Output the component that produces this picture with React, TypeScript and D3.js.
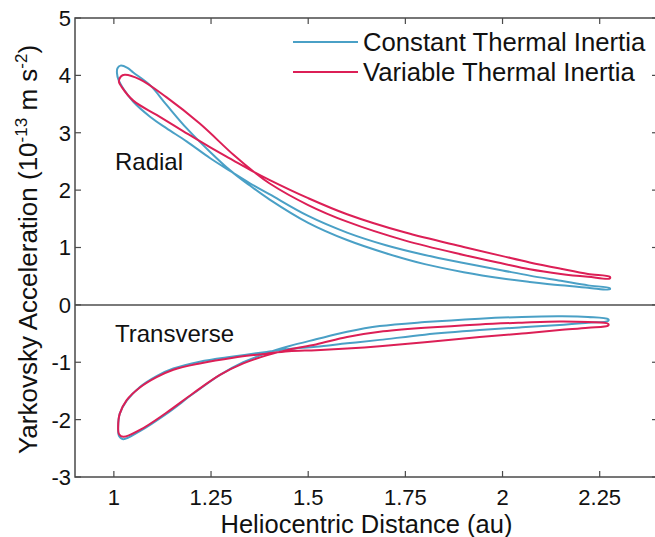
import React from "react";
import * as d3 from "d3";

// ---- data ----
const xTicks = [1, 1.25, 1.5, 1.75, 2, 2.25];
const xTickLabels = ["1", "1.25", "1.5", "1.75", "2", "2.25"];
const yTicks = [-3, -2, -1, 0, 1, 2, 3, 4, 5];
const yTickLabels = ["-3", "-2", "-1", "0", "1", "2", "3", "4", "5"];

const seriesNames = ["Constant Thermal Inertia", "Variable Thermal Inertia"];
const seriesColors = ["#4aa0c6", "#dc1f56"];

// Radial, constant thermal inertia (two branches of the loop)
const constRadialA: [number, number][] = [
  [1.017, 4.17], [1.035, 4.13], [1.05, 4.05], [1.093, 3.83], [1.135, 3.49], [1.187, 3.08],
  [1.247, 2.67], [1.3, 2.34], [1.35, 2.08], [1.4, 1.84], [1.5, 1.43], [1.6, 1.13],
  [1.7, 0.9], [1.8, 0.71], [1.9, 0.57], [2.0, 0.46], [2.07, 0.4], [2.15, 0.34], [2.22, 0.3], [2.276, 0.27],
];
const constRadialB: [number, number][] = [
  [1.009, 4.12], [1.008, 4.04], [1.012, 3.92], [1.024, 3.77], [1.05, 3.54], [1.093, 3.28], [1.135, 3.08],
  [1.187, 2.85], [1.247, 2.56], [1.3, 2.33], [1.35, 2.12], [1.4, 1.93], [1.5, 1.55], [1.6, 1.26],
  [1.7, 1.04], [1.8, 0.87], [1.9, 0.73], [2.0, 0.6], [2.07, 0.51], [2.15, 0.42], [2.22, 0.34], [2.276, 0.29],
];
// Radial, variable thermal inertia
const varRadialA: [number, number][] = [
  [1.028, 4.01], [1.067, 3.93], [1.135, 3.62], [1.221, 3.16], [1.307, 2.62], [1.36, 2.32],
  [1.4, 2.12], [1.5, 1.74], [1.6, 1.45], [1.75, 1.12], [1.9, 0.87], [2.0, 0.72], [2.07, 0.62],
  [2.15, 0.54], [2.22, 0.49], [2.276, 0.46],
];
const varRadialB: [number, number][] = [
  [1.018, 3.98], [1.013, 3.89], [1.02, 3.8], [1.05, 3.56], [1.11, 3.31], [1.178, 3.03], [1.247, 2.75],
  [1.307, 2.52], [1.36, 2.32], [1.4, 2.18], [1.5, 1.86], [1.6, 1.58], [1.75, 1.26], [1.9, 1.01],
  [2.0, 0.85], [2.07, 0.74], [2.15, 0.63], [2.22, 0.54], [2.276, 0.49],
];
// Transverse, constant thermal inertia
const constTransA: [number, number][] = [
  [1.024, -2.34], [1.067, -2.2], [1.135, -1.9], [1.204, -1.55], [1.273, -1.22], [1.333, -1.0],
  [1.393, -0.84], [1.45, -0.72], [1.52, -0.6], [1.6, -0.47], [1.684, -0.37], [1.8, -0.3],
  [1.941, -0.24], [2.05, -0.21], [2.147, -0.2], [2.22, -0.21], [2.272, -0.25],
];
const constTransB: [number, number][] = [
  [1.013, -2.28], [1.011, -2.13], [1.015, -1.9], [1.033, -1.67], [1.067, -1.43], [1.11, -1.24],
  [1.153, -1.11], [1.221, -0.99], [1.307, -0.9], [1.393, -0.82], [1.45, -0.77], [1.52, -0.73],
  [1.6, -0.67], [1.684, -0.61], [1.8, -0.52], [1.941, -0.44], [2.05, -0.39], [2.147, -0.35], [2.22, -0.31], [2.272, -0.28],
];
// Transverse, variable thermal inertia
const varTransA: [number, number][] = [
  [1.024, -2.3], [1.067, -2.18], [1.135, -1.88], [1.204, -1.54], [1.273, -1.22], [1.333, -1.02],
  [1.393, -0.88], [1.45, -0.78], [1.52, -0.69], [1.6, -0.56], [1.684, -0.47], [1.8, -0.4],
  [1.941, -0.34], [2.05, -0.31], [2.147, -0.29], [2.22, -0.3], [2.272, -0.33],
];
const varTransB: [number, number][] = [
  [1.013, -2.25], [1.011, -2.13], [1.015, -1.9], [1.033, -1.66], [1.067, -1.44], [1.11, -1.26],
  [1.153, -1.13], [1.221, -1.02], [1.307, -0.92], [1.393, -0.85], [1.45, -0.81], [1.52, -0.79],
  [1.6, -0.76], [1.684, -0.72], [1.8, -0.65], [1.941, -0.56], [2.05, -0.5], [2.147, -0.44], [2.22, -0.4], [2.272, -0.36],
];

const loops = [
  { a: constRadialA, b: constRadialB, s: 0 },
  { a: constTransA, b: constTransB, s: 0 },
  { a: varRadialA, b: varRadialB, s: 1 },
  { a: varTransA, b: varTransB, s: 1 },
];

const W = 655;
const H = 537;
const M = { left: 75, right: 658, top: 18, bottom: 477 };
const FONT = "'Liberation Sans', Arial, Helvetica, sans-serif";

export default function App() {
  const x = d3.scaleLinear().domain([0.9, 2.4]).range([M.left, M.right]);
  const y = d3.scaleLinear().domain([-3, 5]).range([M.bottom, M.top]);
  const line = d3
    .line<[number, number]>()
    .x((d) => x(d[0]))
    .y((d) => y(d[1]))
    .curve(d3.curveCatmullRomClosed.alpha(0.5));

  const axisColor = "#4a4a4a";
  const tickLen = 6;

  return (
    <svg
      width={W}
      height={H}
      style={{ position: "absolute", left: 0, top: 0, background: "#fff" }}
      fontFamily={FONT}
    >
      <rect x={0} y={0} width={W} height={H} fill="#fff" />
      {/* zero line */}
      <line x1={M.left} x2={M.right} y1={y(0)} y2={y(0)} stroke="#7a7a7a" strokeWidth={2} />

      {/* loops */}
      {loops.map((l, i) => (
        <path
          key={i}
          d={line([...l.a, ...l.b.slice().reverse()]) || ""}
          fill="none"
          stroke={seriesColors[l.s]}
          strokeWidth={2}
          strokeLinejoin="round"
        />
      ))}

      {/* box */}
      <rect
        x={M.left}
        y={M.top}
        width={M.right - M.left}
        height={M.bottom - M.top}
        fill="none"
        stroke={axisColor}
        strokeWidth={1.5}
      />

      {/* x ticks */}
      {xTicks.map((t, i) => (
        <g key={"x" + i}>
          <line x1={x(t)} x2={x(t)} y1={M.bottom} y2={M.bottom - tickLen} stroke={axisColor} strokeWidth={1.2} />
          <line x1={x(t)} x2={x(t)} y1={M.top} y2={M.top + tickLen} stroke={axisColor} strokeWidth={1.2} />
          <text x={x(t)} y={505} textAnchor="middle" fontSize={22} fill="#111">
            {xTickLabels[i]}
          </text>
        </g>
      ))}

      {/* y ticks */}
      {yTicks.map((t, i) => (
        <g key={"y" + i}>
          <line x1={M.left} x2={M.left + tickLen} y1={y(t)} y2={y(t)} stroke={axisColor} strokeWidth={1.2} />
          <line x1={M.right} x2={M.right - tickLen} y1={y(t)} y2={y(t)} stroke={axisColor} strokeWidth={1.2} />
          <text x={71} y={y(t)} dy="0.36em" textAnchor="end" fontSize={22} fill="#111">
            {yTickLabels[i]}
          </text>
        </g>
      ))}

      {/* axis labels */}
      <text x={(M.left + M.right) / 2} y={533} textAnchor="middle" fontSize={25.5} fill="#111">
        Heliocentric Distance (au)
      </text>
      <text
        transform={`translate(37, ${(M.top + M.bottom) / 2 + 2}) rotate(-90)`}
        textAnchor="middle"
        fontSize={26}
        fill="#111"
      >
        Yarkovsky Acceleration (10
        <tspan fontSize={17} dy={-10}>-13</tspan>
        <tspan dy={10}> m s</tspan>
        <tspan fontSize={17} dy={-10}>-2</tspan>
        <tspan dy={10}>)</tspan>
      </text>

      {/* annotations */}
      <text x={115} y={170} fontSize={24} fill="#111">Radial</text>
      <text x={115} y={342} fontSize={24} fill="#111">Transverse</text>

      {/* legend */}
      {seriesNames.map((n, i) => (
        <g key={"lg" + i}>
          <line x1={293} x2={358} y1={42 + i * 30} y2={42 + i * 30} stroke={seriesColors[i]} strokeWidth={2} />
          <text x={363} y={42 + i * 30} dy="0.36em" fontSize={25.7} fill="#111">
            {n}
          </text>
        </g>
      ))}
    </svg>
  );
}
